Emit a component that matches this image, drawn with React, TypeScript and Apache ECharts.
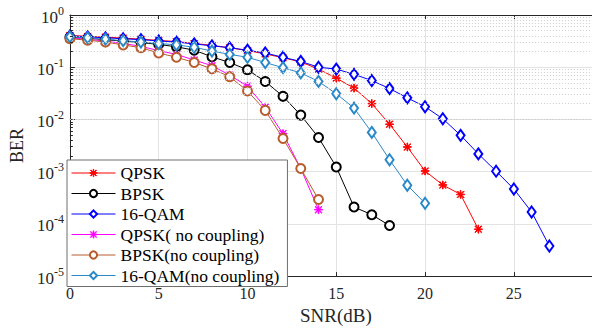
import React, { useEffect, useRef } from "react";
import * as echarts from "echarts";

const snr = Array.from({ length: 28 }, (_, i) => i);

const qpsk = [0.406, 0.39, 0.377, 0.361, 0.344, 0.327, 0.31, 0.285, 0.262, 0.236, 0.208, 0.18, 0.152, 0.126, 0.092, 0.0618, 0.0398, 0.0201, 0.0081, 0.00297, 0.00103, 0.000556, 0.000366, 0.000079];
const bpsk = [0.374, 0.359, 0.337, 0.316, 0.297, 0.273, 0.246, 0.212, 0.158, 0.123, 0.0893, 0.0534, 0.0277, 0.0121, 0.00452, 0.00123, 0.00021, 0.00015, 0.000093];
const qam16 = [0.398, 0.382, 0.366, 0.351, 0.337, 0.319, 0.303, 0.279, 0.257, 0.236, 0.212, 0.187, 0.155, 0.129, 0.1, 0.092, 0.0731, 0.0556, 0.039, 0.0259, 0.0175, 0.0103, 0.00497, 0.00219, 0.00102, 0.000465, 0.000169, 0.0000377];
const qpskNc = [0.366, 0.344, 0.316, 0.285, 0.251, 0.208, 0.176, 0.137, 0.107, 0.0706, 0.0433, 0.0172, 0.00534, 0.00115, 0.000187];
const bpskNc = [0.351, 0.33, 0.303, 0.268, 0.236, 0.187, 0.155, 0.123, 0.0931, 0.0658, 0.0351, 0.0149, 0.00433, 0.00115, 0.000293];
const qam16Nc = [0.382, 0.366, 0.344, 0.323, 0.303, 0.285, 0.268, 0.241, 0.204, 0.176, 0.155, 0.123, 0.098, 0.0778, 0.0534, 0.031, 0.0165, 0.00564, 0.00169, 0.00055, 0.000248];

const xTicks = [0, 5, 10, 15, 20, 25];
const decades = [-5, -4, -3, -2, -1, 0];

const seriesNames = ["QPSK", "BPSK", "16-QAM", "QPSK( no coupling)", "BPSK(no coupling)", "16-QAM(no coupling)"];

const FONT = "Liberation Serif";
const STAR =
  "path://M4.6 0 L5.4 0 L5.4 10 L4.6 10 Z M0 4.6 L10 4.6 L10 5.4 L0 5.4 Z M1.3 0.7 L9.3 8.7 L8.7 9.3 L0.7 1.3 Z M8.7 0.7 L9.3 1.3 L1.3 9.3 L0.7 8.7 Z";

export default function App() {
  const ref = useRef<HTMLDivElement>(null);
  useEffect(() => {
    if (!ref.current) return;
    const chart = echarts.init(ref.current, null, { renderer: "svg" });

    const minorVals: number[] = [];
    for (let d = -5; d < 0; d++) {
      for (let k = 2; k <= 9; k++) minorVals.push(k * Math.pow(10, d));
    }

    const mk = (name: string, data: number[], color: string, symbol: string, size: any) => ({
      name,
      type: "line",
      data: data.map((v, i) => [snr[i], v]),
      symbol,
      symbolSize: size,
      z: 3,
      lineStyle: { color, width: 1 },
      itemStyle: { color, borderColor: color, borderWidth: 1 },
      emphasis: { disabled: true },
    });

    chart.setOption({
      animation: false,
      backgroundColor: "#ffffff",
      textStyle: { fontFamily: FONT },
      grid: { left: 64, right: 0, top: 15, bottom: 40, containLabel: false },
      legend: {
        data: seriesNames,
        orient: "vertical",
        left: 67,
        top: 160,
        itemWidth: 44,
        itemHeight: 9,
        itemGap: 2.5,
        padding: [4, 8, 2, 4],
        backgroundColor: "#ffffff",
        borderColor: "#6e6e6e",
        borderWidth: 1,
        lineStyle: { width: 1 },
        itemStyle: { borderWidth: 1 },
        textStyle: { fontFamily: FONT, fontSize: 17.5, lineHeight: 16, color: "#000" },
        z: 10,
      },
      xAxis: [
        {
          type: "value",
          min: 0,
          max: 29.4,
          interval: 5,
          name: "SNR(dB)",
          nameLocation: "middle",
          nameGap: 22,
          nameTextStyle: { fontFamily: FONT, fontSize: 19, color: "#262626", padding: [0, 0, 0, 10] },
          axisLine: { show: true, lineStyle: { color: "#262626", width: 1 } },
          axisTick: { show: true, inside: true, length: 4, lineStyle: { color: "#262626" } },
          axisLabel: {
            fontFamily: FONT,
            fontSize: 16,
            color: "#262626",
            margin: 9,
            showMaxLabel: false,
            formatter: (v: number) => (xTicks.includes(v) ? String(v) : ""),
          },
          splitLine: { show: true, lineStyle: { color: "#e3e3e3", width: 1 } },
        },
        {
          type: "value",
          position: "top",
          min: 0,
          max: 29.4,
          interval: 5,
          axisLine: { show: true, lineStyle: { color: "#262626", width: 1 } },
          axisTick: { show: true, inside: true, length: 4, lineStyle: { color: "#262626" } },
          axisLabel: { show: false },
          splitLine: { show: false },
        },
      ],
      yAxis: {
        type: "log",
        logBase: 10,
        min: 1e-5,
        max: 1,
        splitNumber: 5,
        name: "BER",
        nameLocation: "middle",
        nameGap: 34,
        nameTextStyle: { fontFamily: FONT, fontSize: 18, color: "#262626" },
        axisLine: { show: true, lineStyle: { color: "#262626", width: 1 } },
        axisTick: { show: true, inside: true, length: 5, lineStyle: { color: "#262626" } },
        axisLabel: {
          margin: 6,
          formatter: (v: number) => {
            const e = Math.round(Math.log10(v));
            return decades.includes(e) ? `{b|10}{s|${e}}` : "";
          },
          rich: {
            b: { fontFamily: FONT, fontSize: 17, color: "#262626", verticalAlign: "bottom" },
            s: { fontFamily: FONT, fontSize: 12, color: "#262626", verticalAlign: "top", padding: [0, 0, 9, 0] },
          },
        },
        splitLine: { show: true, lineStyle: { color: "#e3e3e3", width: 1 } },
      },
      series: [
        {
          name: "helper",
          type: "line",
          data: [],
          z: 1,
          silent: true,
          markLine: {
            silent: true,
            symbol: "none",
            label: { show: false },
            animation: false,
            data: [
              ...minorVals.map((v) => ({ yAxis: v, lineStyle: { color: "#cccccc", width: 1, type: [1, 2] } })),
              ...minorVals.map((v) => [
                { coord: [0, v], lineStyle: { color: "#262626", width: 1, type: "solid" } },
                { coord: [0.17, v] },
              ]),
            ],
          },
        },
        mk(seriesNames[0], qpsk, "#ff0000", STAR, 8),
        mk(seriesNames[1], bpsk, "#000000", "emptyCircle", 9),
        mk(seriesNames[2], qam16, "#0000ff", "emptyDiamond", [8, 11]),
        mk(seriesNames[3], qpskNc, "#ff00ff", STAR, 8),
        mk(seriesNames[4], bpskNc, "#b85c2c", "emptyCircle", 9),
        mk(seriesNames[5], qam16Nc, "#2a88c8", "emptyDiamond", [8, 11]),
      ],
    });
    return () => chart.dispose();
  }, []);
  return <div ref={ref} style={{ width: 592, height: 330, position: "absolute", left: 0, top: 0 }} />;
}
